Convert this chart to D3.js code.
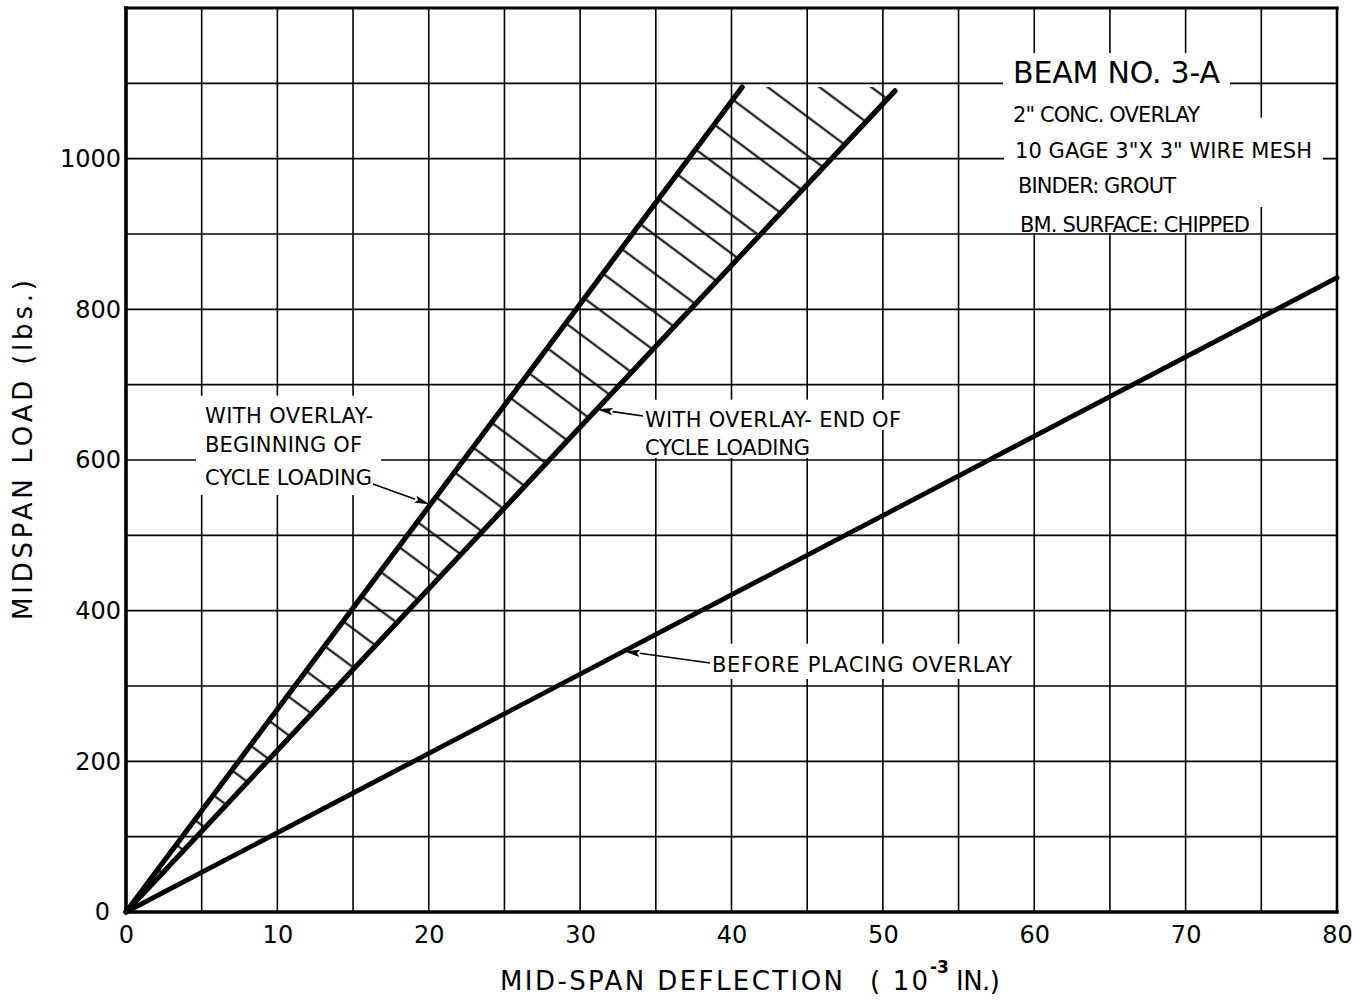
<!DOCTYPE html>
<html>
<head>
<meta charset="utf-8">
<script src="https://cdn.jsdelivr.net/npm/d3@7"></script>
<style>
  body { margin: 0; background: #fff; }
  svg text { font-family: "DejaVu Sans", sans-serif; fill: #000; }
</style>
</head>
<body>
<div id="Chart"></div>
<script>
//////////////////////////////////////////////////////////////////////////
// global variables

var Width = 1364;     // of svg
var Height = 1005;    // of svg
var PlotLeft = 126;   // x of 0 deflection
var PlotRight = 1337; // x of 80 deflection
var PlotTop = 8;      // y of 1200 lbs
var PlotBottom = 912; // y of 0 lbs

// tick labels
var deflectionTicks = [0, 10, 20, 30, 40, 50, 60, 70, 80];
var loadTicks = [0, 200, 400, 600, 800, 1000];

// the three load-deflection lines (deflection in 10^-3 in., load in lbs)
var beginDeflection = [0, 40.7];   // with overlay - beginning of cycle loading
var beginLoad = [0, 1095];
var endDeflection = [0, 50.8];     // with overlay - end of cycle loading
var endLoad = [0, 1090];
var beforeDeflection = [0, 80];    // before placing overlay
var beforeLoad = [0, 842];

// hatched band between the two overlay lines stops at this load
var hatchTopLoad = 1095;

// where the arrows touch each line (deflection)
var beginArrowAt = 20.1;
var endArrowAt = 31.1;
var beforeArrowAt = 32.9;

// text
var beamNotes = ["BEAM NO. 3-A", "2\" CONC. OVERLAY", "10 GAGE  3\"X 3\" WIRE MESH",
                 "BINDER: GROUT", "BM. SURFACE: CHIPPED"];
var beginNote = ["WITH OVERLAY-", "BEGINNING OF", "CYCLE LOADING"];
var endNote = ["WITH OVERLAY- END OF", "CYCLE LOADING"];
var beforeNote = ["BEFORE PLACING OVERLAY"];

//////////////////////////////////////////////////////////////////////////
// functions start here

function initialize () {

    var svg = d3.select("#Chart")
        .append("svg")
        .attr("width", Width)
        .attr("height", Height);

    svg.append("rect")
        .attr("width", Width)
        .attr("height", Height)
        .attr("fill", "#fff");

    var xScale = d3.scaleLinear().domain([0, 80]).range([PlotLeft, PlotRight]);
    var yScale = d3.scaleLinear().domain([0, 1200]).range([PlotBottom, PlotTop]);

    makeGrid (svg, xScale, yScale);
    makeAxes (svg, xScale, yScale);
    makeHatch (svg, xScale, yScale);
    makeLines (svg, xScale, yScale);
    makeNotes (svg, xScale, yScale);

} // end initialize

// light grid every 5 x 100
function makeGrid (svg, xScale, yScale) {

    var grid = svg.append("g").attr("class", "grid");

    grid.selectAll("line.v")
        .data(xScale.ticks(16))
        .enter()
        .append("line")
        .attr("class", "v")
        .attr("x1", function(d) { return xScale(d); })
        .attr("x2", function(d) { return xScale(d); })
        .attr("y1", PlotTop)
        .attr("y2", PlotBottom)
        .attr("stroke", "#000")
        .attr("stroke-width", 1.6);

    grid.selectAll("line.h")
        .data(yScale.ticks(12))
        .enter()
        .append("line")
        .attr("class", "h")
        .attr("x1", PlotLeft)
        .attr("x2", PlotRight)
        .attr("y1", function(d) { return yScale(d); })
        .attr("y2", function(d) { return yScale(d); })
        .attr("stroke", "#000")
        .attr("stroke-width", 1.6);

    // heavier frame
    var frame = [
        [PlotLeft, PlotTop, PlotLeft, PlotBottom, 3.6],
        [PlotLeft, PlotBottom, PlotRight, PlotBottom, 3.4],
        [PlotLeft, PlotTop, PlotRight, PlotTop, 3.2],
        [PlotRight, PlotTop, PlotRight, PlotBottom, 2.6]
    ];
    grid.selectAll("line.frame")
        .data(frame)
        .enter()
        .append("line")
        .attr("class", "frame")
        .attr("x1", function(d) { return d[0]; })
        .attr("y1", function(d) { return d[1]; })
        .attr("x2", function(d) { return d[2]; })
        .attr("y2", function(d) { return d[3]; })
        .attr("stroke", "#000")
        .attr("stroke-linecap", "square")
        .attr("stroke-width", function(d) { return d[4]; });

} // end makeGrid

// tick labels and axis titles
function makeAxes (svg, xScale, yScale) {

    var xAxis = d3.axisBottom(xScale)
        .tickValues(deflectionTicks)
        .tickFormat(d3.format("d"))
        .tickSize(0)
        .tickPadding(14);

    var gx = svg.append("g")
        .attr("class", "x axis")
        .attr("transform", "translate(0," + PlotBottom + ")")
        .call(xAxis);
    gx.select(".domain").remove();
    gx.selectAll("text")
        .attr("font-size", "24px")
        .attr("font-family", "DejaVu Sans");

    var yAxis = d3.axisLeft(yScale)
        .tickValues(loadTicks)
        .tickFormat(d3.format("d"))
        .tickSize(0)
        .tickPadding(4);

    var gy = svg.append("g")
        .attr("class", "y axis")
        .attr("transform", "translate(" + (PlotLeft - 1) + ",0)")
        .call(yAxis);
    gy.select(".domain").remove();
    gy.selectAll("text")
        .attr("font-size", "24px")
        .attr("font-family", "DejaVu Sans");
    // the zero on the load axis sits a little further left
    gy.selectAll(".tick")
        .filter(function(d) { return d === 0; })
        .select("text")
        .attr("x", -15);

    // x title
    var xt = svg.append("g").attr("class", "x label");
    xt.append("text")
        .attr("x", 500).attr("y", 990)
        .attr("font-size", "26px")
        .attr("textLength", 343)
        .attr("lengthAdjust", "spacing")
        .text("MID-SPAN DEFLECTION");
    xt.append("text")
        .attr("x", 870).attr("y", 990)
        .attr("font-size", "26px")
        .attr("textLength", 58)
        .attr("lengthAdjust", "spacing")
        .text("( 10");
    xt.append("text")
        .attr("x", 930).attr("y", 973)
        .attr("font-size", "17px")
        .attr("font-weight", "bold")
        .text("-3");
    xt.append("text")
        .attr("x", 956).attr("y", 990)
        .attr("font-size", "26px")
        .attr("textLength", 44)
        .attr("lengthAdjust", "spacing")
        .text("IN.)");

    // y title
    svg.append("text")
        .attr("class", "y label")
        .attr("transform", "translate(32,450) rotate(-90)")
        .attr("text-anchor", "middle")
        .attr("font-size", "26px")
        .attr("textLength", 340)
        .attr("lengthAdjust", "spacing")
        .text("MIDSPAN LOAD (lbs.)");

} // end makeAxes

// hatched band between the two overlay lines
function makeHatch (svg, xScale, yScale) {

    var x0 = xScale(0), y0 = yScale(0);
    var dx = xScale(beginDeflection[1]) - x0;
    var dy = yScale(beginLoad[1]) - y0;
    // hatching runs square to the beginning-of-cycle line
    var angle = Math.atan2(dx, -dy) * 180 / Math.PI;
    var spacing = 31;

    var defs = svg.append("defs");
    defs.append("pattern")
        .attr("id", "hatch")
        .attr("patternUnits", "userSpaceOnUse")
        .attr("width", 60)
        .attr("height", spacing)
        .attr("patternTransform", "translate(" + x0 + "," + (y0 - 8) + ") rotate(" + angle + ")")
        .append("line")
        .attr("x1", 0).attr("x2", 60)
        .attr("y1", spacing / 2).attr("y2", spacing / 2)
        .attr("stroke", "#000")
        .attr("stroke-width", 1.8);

    var band = [
        [0, 0],
        [beginDeflection[1] * hatchTopLoad / beginLoad[1], hatchTopLoad],
        [endDeflection[1] * hatchTopLoad / endLoad[1], hatchTopLoad]
    ];

    svg.append("path")
        .attr("class", "hatch")
        .attr("d", d3.line()
              .x(function(d) { return xScale(d[0]); })
              .y(function(d) { return yScale(d[1]); })(band) + "Z")
        .attr("fill", "url(#hatch)");

} // end makeHatch

// the three straight load lines
function makeLines (svg, xScale, yScale) {

    var series = [
        { defl: beginDeflection, load: beginLoad, w: 5.2 },
        { defl: endDeflection, load: endLoad, w: 5.2 },
        { defl: beforeDeflection, load: beforeLoad, w: 4.8 }
    ];

    var line = d3.line()
        .x(function(d) { return xScale(d[0]); })
        .y(function(d) { return yScale(d[1]); });

    svg.selectAll("path.series")
        .data(series)
        .enter()
        .append("path")
        .attr("class", "series")
        .attr("d", function(s) { return line(d3.zip(s.defl, s.load)); })
        .attr("fill", "none")
        .attr("stroke", "#000")
        .attr("stroke-linecap", "round")
        .attr("stroke-width", function(s) { return s.w; });

} // end makeLines

// a block of lettering with white paper behind it, hiding the grid
function letterBlock (svg, rows) {

    var g = svg.append("g");

    g.selectAll("rect")
        .data(rows)
        .enter()
        .append("rect")
        .attr("x", function(r) { return r.x - r.padX; })
        .attr("y", function(r) { return r.y - r.size * 0.73 - r.padTop; })
        .attr("width", function(r) { return r.w + 2 * r.padX + (r.extraRight || 0); })
        .attr("height", function(r) { return r.size * 0.73 + r.padTop + r.padBottom; })
        .attr("fill", "#fff");

    g.selectAll("text")
        .data(rows)
        .enter()
        .append("text")
        .attr("x", function(r) { return r.x; })
        .attr("y", function(r) { return r.y; })
        .attr("font-size", function(r) { return r.size + "px"; })
        .attr("textLength", function(r) { return r.w; })
        .attr("lengthAdjust", "spacing")
        .text(function(r) { return r.text; });

} // end letterBlock

// one arrow from a label to a point on a line
function arrow (svg, x1, y1, x2, y2) {

    var ang = Math.atan2(y2 - y1, x2 - x1);
    var len = 16, half = 3.6;
    var bx = x2 - len * Math.cos(ang), by = y2 - len * Math.sin(ang);

    svg.append("line")
        .attr("x1", x1).attr("y1", y1)
        .attr("x2", bx).attr("y2", by)
        .attr("stroke", "#000")
        .attr("stroke-width", 1.6);

    svg.append("path")
        .attr("d", "M" + x2 + "," + y2 +
              "L" + (bx - half * Math.sin(ang)) + "," + (by + half * Math.cos(ang)) +
              "L" + (bx + 3 * Math.cos(ang)) + "," + (by + 3 * Math.sin(ang)) +
              "L" + (bx + half * Math.sin(ang)) + "," + (by - half * Math.cos(ang)) + "Z")
        .attr("fill", "#000");

} // end arrow

function makeNotes (svg, xScale, yScale) {

    // beam description, upper right
    var beamX = [1013, 1013, 1015, 1018, 1020];
    var beamY = [83, 122, 158, 193, 232];
    var beamW = [207, 187, 297, 158, 230];
    var beamTop = [8, 10, 25, 10, 10];
    var beamExtra = [0, 0, 0, 100, 0];
    var beamRows = beamNotes.map(function(t, i) {
        return { text: t, x: beamX[i], y: beamY[i], w: beamW[i],
                 size: i === 0 ? 30 : 21,
                 padX: i === 2 ? 11 : 10,
                 padTop: beamTop[i],
                 padBottom: i === 4 ? 1 : 14,
                 extraRight: beamExtra[i] };
    });
    letterBlock(svg, beamRows);

    // beginning of cycle
    var bY = [423, 452, 485], bW = [168, 157, 167];
    letterBlock(svg, beginNote.map(function(t, i) {
        return { text: t, x: 205, y: bY[i], w: bW[i], size: 21,
                 padX: 9, padTop: 12, padBottom: 10 };
    }));
    arrow(svg, 373, 484, xScale(beginArrowAt),
          yScale(beginArrowAt * beginLoad[1] / beginDeflection[1]));

    // end of cycle
    var eY = [427, 455], eW = [256, 165];
    letterBlock(svg, endNote.map(function(t, i) {
        return { text: t, x: 645, y: eY[i], w: eW[i], size: 21,
                 padX: 8, padTop: 12, padBottom: 3 };
    }));
    arrow(svg, 643, 416, xScale(endArrowAt),
          yScale(endArrowAt * endLoad[1] / endDeflection[1]));

    // before overlay
    letterBlock(svg, beforeNote.map(function(t) {
        return { text: t, x: 712, y: 672, w: 300, size: 21,
                 padX: 6, padTop: 13, padBottom: 7 };
    }));
    arrow(svg, 710, 663, xScale(beforeArrowAt),
          yScale(beforeArrowAt * beforeLoad[1] / beforeDeflection[1]));

} // end makeNotes

//////////////////////////////////////////////////////////////////////////
initialize();
</script>
</body>
</html>
